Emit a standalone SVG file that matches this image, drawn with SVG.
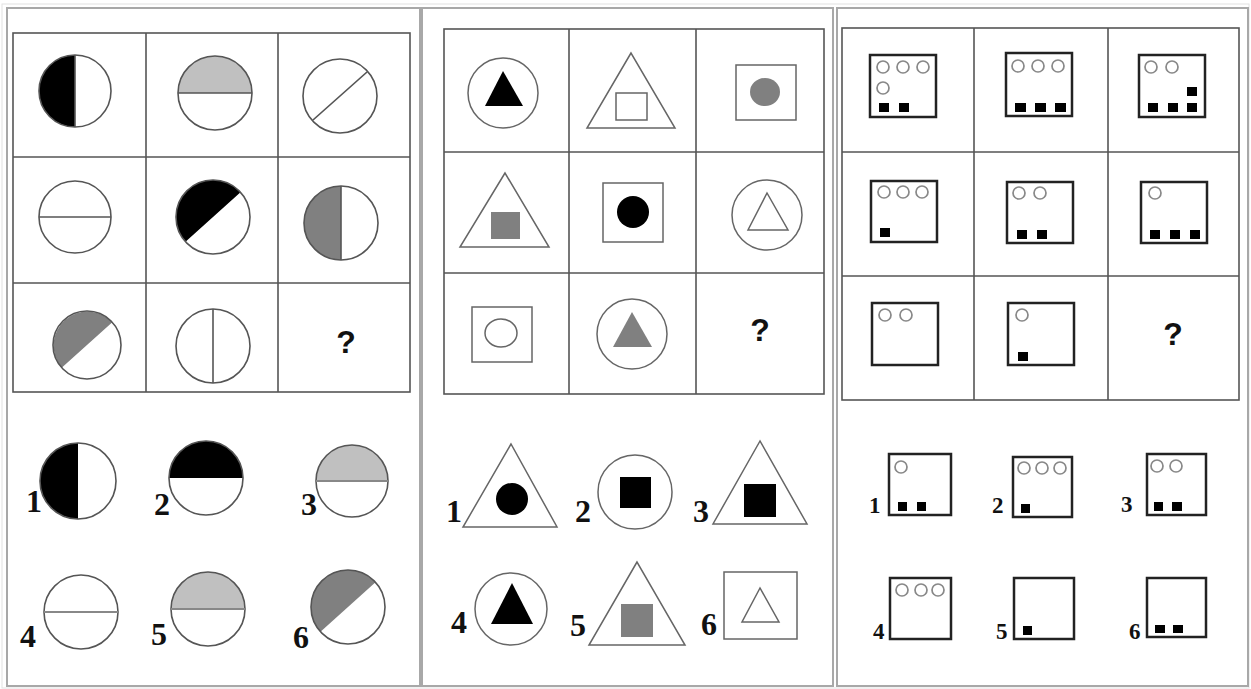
<svg xmlns="http://www.w3.org/2000/svg" width="1251" height="689" viewBox="0 0 1251 689">
<style>
.panel{fill:#fff;stroke:#a8a8a8;stroke-width:2}
.grid{fill:none;stroke:#555;stroke-width:1.6}
.c{fill:none;stroke:#555;stroke-width:1.6}
.ln{stroke:#555;stroke-width:1.6}
.lnl{stroke:#888;stroke-width:2}
.blk{fill:#000}
.lg{fill:#c0c0c0}
.mg{fill:#808080}
.sh{fill:none;stroke:#666;stroke-width:1.5}
.box{fill:none;stroke:#222;stroke-width:2.5}
.dot{fill:none;stroke:#888;stroke-width:1.7}
.q{font-family:"Liberation Sans",Arial,sans-serif;font-weight:bold;font-size:32px;fill:#111;text-anchor:middle}
.lab{font-family:"Liberation Serif","Times New Roman",serif;font-weight:bold;font-size:32px;fill:#111}
.lab3{font-family:"Liberation Serif","Times New Roman",serif;font-weight:bold;font-size:23px;fill:#111}
</style>
<rect x="0" y="0" width="1251" height="689" fill="#fff"/>
<rect x="2" y="4" width="1247" height="684" fill="none" stroke="#e2e2e2" stroke-width="1"/>

<!-- Panel 1 -->
<g id="panel1">
<rect class="panel" x="7" y="8" width="413" height="678"/>
<g id="p1-grid">
<rect class="grid" x="13" y="33" width="397" height="359"/>
<line class="grid" x1="146" y1="33" x2="146" y2="392"/>
<line class="grid" x1="278" y1="33" x2="278" y2="392"/>
<line class="grid" x1="13" y1="157" x2="410" y2="157"/>
<line class="grid" x1="13" y1="283" x2="410" y2="283"/>
</g>
<g id="p1-r1c1"><path class="blk" d="M75,55 A36,36 0 0 0 75,127 Z"/><circle class="c" cx="75" cy="91" r="36"/><line class="ln" x1="75" y1="55" x2="75" y2="127"/></g>
<g id="p1-r1c2"><path class="lg" d="M178,93 A37,37 0 0 1 252,93 Z"/><circle class="c" cx="215" cy="93" r="37"/><line class="ln" x1="178" y1="93" x2="252" y2="93"/></g>
<g id="p1-r1c3"><circle class="c" cx="340" cy="96" r="37"/><line class="ln" x1="313" y1="120" x2="367" y2="72"/></g>
<g id="p1-r2c1"><circle class="c" cx="75" cy="217" r="36"/><line class="ln" x1="39" y1="217" x2="111" y2="217"/></g>
<g id="p1-r2c2"><path class="blk" d="M185.5,241.8 A37,37 0 0 1 240.5,192.2 Z"/><circle class="c" cx="213" cy="217" r="37"/></g>
<g id="p1-r2c3"><path class="mg" d="M341,186 A37,37 0 0 0 341,260 Z"/><circle class="c" cx="341" cy="223" r="37"/><line class="ln" x1="341" y1="186" x2="341" y2="260"/></g>
<g id="p1-r3c1"><path class="mg" d="M61.7,367.7 A34,34 0 0 1 112.3,322.3 Z"/><circle class="c" cx="87" cy="345" r="34"/></g>
<g id="p1-r3c2"><circle class="c" cx="213" cy="346" r="37"/><line class="ln" x1="213" y1="309" x2="213" y2="383"/></g>
<g id="p1-r3c3"><text class="q" x="346" y="353">?</text></g>

<g id="p1-opt1"><path class="blk" d="M78,443 A38,38 0 0 0 78,519 Z"/><circle class="c" cx="78" cy="481" r="38"/><text class="lab" x="26" y="512">1</text></g>
<g id="p1-opt2"><path class="blk" d="M169,478 A37,37 0 0 1 243,478 Z"/><circle class="c" cx="206" cy="478" r="37"/><text class="lab" x="154" y="515">2</text></g>
<g id="p1-opt3"><path class="lg" d="M316,481 A36,36 0 0 1 388,481 Z"/><circle class="c" cx="352" cy="481" r="36"/><line class="lnl" x1="316" y1="481" x2="388" y2="481"/><text class="lab" x="301" y="515">3</text></g>
<g id="p1-opt4"><circle class="c" cx="81" cy="612" r="37"/><line class="lnl" x1="44" y1="612" x2="118" y2="612"/><text class="lab" x="20" y="647">4</text></g>
<g id="p1-opt5"><path class="lg" d="M171,609 A37,37 0 0 1 245,609 Z"/><circle class="c" cx="208" cy="609" r="37"/><line class="lnl" x1="171" y1="609" x2="245" y2="609"/><text class="lab" x="151" y="645">5</text></g>
<g id="p1-opt6"><path class="mg" d="M320.5,631.8 A37,37 0 0 1 375.5,582.2 Z"/><circle class="c" cx="348" cy="607" r="37"/><text class="lab" x="293" y="648">6</text></g>
</g>

<!-- Panel 2 -->
<g id="panel2">
<rect class="panel" x="422" y="8" width="411" height="678"/>
<g id="p2-grid">
<rect class="grid" x="444" y="29" width="380" height="365"/>
<line class="grid" x1="569" y1="29" x2="569" y2="394"/>
<line class="grid" x1="696" y1="29" x2="696" y2="394"/>
<line class="grid" x1="444" y1="152" x2="824" y2="152"/>
<line class="grid" x1="444" y1="273" x2="824" y2="273"/>
</g>
<g id="p2-r1c1"><circle class="sh" cx="503" cy="93" r="35"/><polygon class="blk" points="503,71 485,106 523,106"/></g>
<g id="p2-r1c2"><polygon class="sh" points="631,53 587,128 675,128"/><rect class="sh" x="616" y="93" width="31" height="27"/></g>
<g id="p2-r1c3"><rect class="sh" x="736" y="65" width="60" height="55"/><ellipse cx="765" cy="92" rx="15" ry="14" fill="#808080"/></g>
<g id="p2-r2c1"><polygon class="sh" points="505,173 460,247 549,247"/><rect class="mg" x="491" y="212" width="29" height="27"/></g>
<g id="p2-r2c2"><rect class="sh" x="603" y="183" width="60" height="59"/><circle class="blk" cx="633" cy="212" r="16"/></g>
<g id="p2-r2c3"><circle class="sh" cx="767" cy="215" r="35"/><polygon class="sh" points="767,193 748,230 788,230"/></g>
<g id="p2-r3c1"><rect class="sh" x="472" y="307" width="60" height="55"/><ellipse class="sh" cx="501" cy="333" rx="16" ry="14"/></g>
<g id="p2-r3c2"><circle class="sh" cx="632" cy="334" r="35"/><polygon class="mg" points="632,312 613,347 652,347"/></g>
<g id="p2-r3c3"><text class="q" x="760" y="341">?</text></g>

<g id="p2-opt1"><polygon class="sh" points="511,444 463,527 557,527"/><circle class="blk" cx="512" cy="499" r="16"/><text class="lab" x="446" y="522">1</text></g>
<g id="p2-opt2"><circle class="sh" cx="635" cy="492" r="37"/><rect class="blk" x="620" y="477" width="31" height="31"/><text class="lab" x="575" y="522">2</text></g>
<g id="p2-opt3"><polygon class="sh" points="760,441 713,524 807,524"/><rect class="blk" x="744" y="484" width="32" height="33"/><text class="lab" x="693" y="522">3</text></g>
<g id="p2-opt4"><circle class="sh" cx="511" cy="609" r="36"/><polygon class="blk" points="512,583 491,624 533,624"/><text class="lab" x="451" y="633">4</text></g>
<g id="p2-opt5"><polygon class="sh" points="637,562 589,645 685,645"/><rect class="mg" x="621" y="604" width="32" height="33"/><text class="lab" x="570" y="636">5</text></g>
<g id="p2-opt6"><rect class="sh" x="724" y="572" width="73" height="67"/><polygon class="sh" points="760,588 742,622 779,622"/><text class="lab" x="701" y="635">6</text></g>
</g>

<!-- Panel 3 -->
<g id="panel3">
<rect class="panel" x="837" y="8" width="411" height="678"/>
<g id="p3-grid">
<rect class="grid" x="842" y="28" width="397" height="372"/>
<line class="grid" x1="974" y1="28" x2="974" y2="400"/>
<line class="grid" x1="1108" y1="28" x2="1108" y2="400"/>
<line class="grid" x1="842" y1="152" x2="1239" y2="152"/>
<line class="grid" x1="842" y1="276" x2="1239" y2="276"/>
</g>
<g id="p3-r1c1"><rect class="box" x="870" y="55" width="66" height="62"/>
<circle class="dot" cx="883" cy="67" r="6"/><circle class="dot" cx="903" cy="67" r="6"/><circle class="dot" cx="923" cy="67" r="6"/><circle class="dot" cx="883" cy="88" r="6"/>
<rect class="blk" x="879" y="103" width="10" height="9"/><rect class="blk" x="899" y="103" width="10" height="9"/></g>
<g id="p3-r1c2"><rect class="box" x="1006" y="53" width="66" height="63"/>
<circle class="dot" cx="1018" cy="66" r="6"/><circle class="dot" cx="1038" cy="66" r="6"/><circle class="dot" cx="1058" cy="66" r="6"/>
<rect class="blk" x="1015" y="103" width="11" height="9"/><rect class="blk" x="1035" y="103" width="11" height="9"/><rect class="blk" x="1055" y="103" width="11" height="9"/></g>
<g id="p3-r1c3"><rect class="box" x="1139" y="55" width="66" height="62"/>
<circle class="dot" cx="1151" cy="67" r="6"/><circle class="dot" cx="1172" cy="67" r="6"/>
<rect class="blk" x="1187" y="87" width="10" height="9"/>
<rect class="blk" x="1148" y="103" width="10" height="9"/><rect class="blk" x="1168" y="103" width="10" height="9"/><rect class="blk" x="1187" y="103" width="10" height="9"/></g>
<g id="p3-r2c1"><rect class="box" x="871" y="181" width="66" height="61"/>
<circle class="dot" cx="884" cy="192" r="6"/><circle class="dot" cx="903" cy="192" r="6"/><circle class="dot" cx="922" cy="192" r="6"/>
<rect class="blk" x="880" y="228" width="10" height="9"/></g>
<g id="p3-r2c2"><rect class="box" x="1007" y="182" width="66" height="61"/>
<circle class="dot" cx="1019" cy="193" r="6"/><circle class="dot" cx="1040" cy="193" r="6"/>
<rect class="blk" x="1017" y="230" width="10" height="9"/><rect class="blk" x="1037" y="230" width="10" height="9"/></g>
<g id="p3-r2c3"><rect class="box" x="1141" y="182" width="66" height="61"/>
<circle class="dot" cx="1155" cy="193" r="6"/>
<rect class="blk" x="1150" y="230" width="10" height="9"/><rect class="blk" x="1170" y="230" width="10" height="9"/><rect class="blk" x="1190" y="230" width="10" height="9"/></g>
<g id="p3-r3c1"><rect class="box" x="872" y="303" width="66" height="62"/>
<circle class="dot" cx="885" cy="315" r="6"/><circle class="dot" cx="906" cy="315" r="6"/></g>
<g id="p3-r3c2"><rect class="box" x="1008" y="303" width="66" height="62"/>
<circle class="dot" cx="1022" cy="315" r="6"/>
<rect class="blk" x="1018" y="352" width="10" height="9"/></g>
<g id="p3-r3c3"><text class="q" x="1173" y="345">?</text></g>

<g id="p3-opt1"><rect class="box" x="889" y="454" width="62" height="61"/><circle class="dot" cx="901" cy="467" r="6"/>
<rect class="blk" x="898" y="502" width="9" height="9"/><rect class="blk" x="917" y="502" width="9" height="9"/><text class="lab3" x="869" y="513">1</text></g>
<g id="p3-opt2"><rect class="box" x="1013" y="457" width="59" height="60"/>
<circle class="dot" cx="1024" cy="468" r="6"/><circle class="dot" cx="1042" cy="468" r="6"/><circle class="dot" cx="1060" cy="468" r="6"/>
<rect class="blk" x="1021" y="504" width="9" height="9"/><text class="lab3" x="992" y="513">2</text></g>
<g id="p3-opt3"><rect class="box" x="1147" y="454" width="59" height="61"/>
<circle class="dot" cx="1157" cy="466" r="6"/><circle class="dot" cx="1176" cy="466" r="6"/>
<rect class="blk" x="1154" y="502" width="9" height="9"/><rect class="blk" x="1172" y="502" width="10" height="9"/><text class="lab3" x="1121" y="512">3</text></g>
<g id="p3-opt4"><rect class="box" x="890" y="578" width="61" height="61"/>
<circle class="dot" cx="902" cy="590" r="6"/><circle class="dot" cx="921" cy="590" r="6"/><circle class="dot" cx="938" cy="590" r="6"/><text class="lab3" x="873" y="639">4</text></g>
<g id="p3-opt5"><rect class="box" x="1014" y="578" width="60" height="61"/>
<rect class="blk" x="1023" y="626" width="9" height="9"/><text class="lab3" x="996" y="639">5</text></g>
<g id="p3-opt6"><rect class="box" x="1147" y="578" width="59" height="59"/>
<rect class="blk" x="1155" y="625" width="10" height="8"/><rect class="blk" x="1173" y="625" width="10" height="8"/><text class="lab3" x="1129" y="639">6</text></g>
</g>
</svg>
